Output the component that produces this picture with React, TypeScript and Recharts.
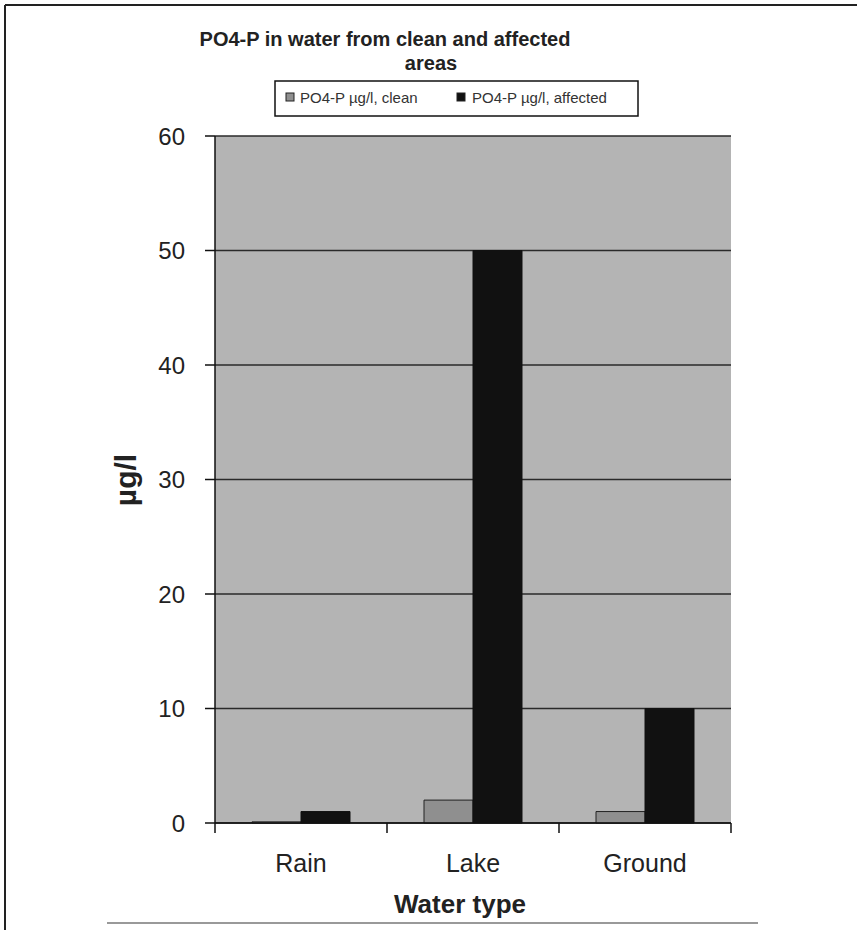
import React from 'react'
import { BarChart, Bar, XAxis, YAxis, CartesianGrid } from 'recharts'

const categories = ['Rain', 'Lake', 'Ground']
const cleanValues = [0.1, 2, 1]
const affectedValues = [1, 50, 10]
const yTicks = [0, 10, 20, 30, 40, 50, 60]
const seriesNames = ['PO4-P µg/l, clean', 'PO4-P µg/l, affected']

const data = categories.map((name, i) => ({
  name,
  clean: cleanValues[i],
  affected: affectedValues[i],
}))

const FONT = 'Arial, "Liberation Sans", sans-serif'
const BAND = 172
const CLEAN = '#8f8f8f'
const AFFECTED = '#111'

function XTick({ x, y, payload, index }: any) {
  return (
    <g>
      {index === 0 && <line x1={x - BAND / 2} x2={x - BAND / 2} y1={y - 8} y2={y + 2} stroke="#111" strokeWidth={1.5} />}
      <line x1={x + BAND / 2} x2={x + BAND / 2} y1={y - 8} y2={y + 2} stroke="#111" strokeWidth={1.5} />
      <text x={x} y={y + 41} textAnchor="middle" fontSize={25} fill="#222" fontFamily={FONT}>
        {payload.value}
      </text>
    </g>
  )
}

// legend drawn by hand: box with two swatches
function LegendBox() {
  const items = [
    { name: seriesNames[0], color: CLEAN, sx: 286, tx: 300 },
    { name: seriesNames[1], color: AFFECTED, sx: 457, tx: 472 },
  ]
  return (
    <g>
      <rect x={275} y={81} width={363} height={35} fill="#fff" stroke="#111" strokeWidth={1.5} />
      {items.map((it) => (
        <g key={it.name}>
          <rect x={it.sx} y={93} width={8} height={8} fill={it.color} stroke="#222" strokeWidth={1} />
          <text x={it.tx} y={103} fontSize={15} fill="#333" fontFamily={FONT}>
            {it.name}
          </text>
        </g>
      ))}
    </g>
  )
}

export default function App() {
  return (
    <div style={{ position: 'absolute', left: 0, top: 0, width: 857, height: 930, background: '#fff' }}>
      <svg width={857} height={930} style={{ position: 'absolute', left: 0, top: 0 }}>
        <line x1={5} x2={5} y1={5} y2={930} stroke="#222" strokeWidth={2} />
        <line x1={5} x2={857} y1={5} y2={5} stroke="#222" strokeWidth={2} />
        <line x1={107} x2={758} y1={923} y2={923} stroke="#777" strokeWidth={1.5} />
        <text x={385} y={46} textAnchor="middle" fontSize={20} fontWeight="bold" fill="#222" fontFamily={FONT}>
          PO4-P in water from clean and affected
        </text>
        <text x={431} y={70} textAnchor="middle" fontSize={20} fontWeight="bold" fill="#222" fontFamily={FONT}>
          areas
        </text>
        <LegendBox />
        <text
          x={0}
          y={0}
          transform="translate(136,480) rotate(-90)"
          textAnchor="middle"
          fontSize={30}
          fontWeight="bold"
          fill="#222"
          fontFamily={FONT}
        >
          µg/l
        </text>
        <text x={460} y={913} textAnchor="middle" fontSize={26} fontWeight="bold" fill="#222" fontFamily={FONT}>
          Water type
        </text>
      </svg>
      <div style={{ position: 'absolute', left: 0, top: 0 }}>
        <BarChart
          width={857}
          height={930}
          data={data}
          margin={{ top: 136, right: 126, bottom: 0, left: 0 }}
          barGap={0}
          barCategoryGap={37}
        >
          <CartesianGrid vertical={false} fill="#b4b4b4" stroke="#2a2a2a" strokeWidth={1.5} />
          <XAxis
            dataKey="name"
            height={107}
            axisLine={{ stroke: '#111', strokeWidth: 1.5 }}
            tickLine={false}
            tick={<XTick />}
            interval={0}
          />
          <YAxis
            width={215}
            domain={[0, 60]}
            ticks={yTicks}
            interval={0}
            axisLine={{ stroke: '#111', strokeWidth: 1.5 }}
            tickLine={{ stroke: '#111', strokeWidth: 1.5 }}
            tickSize={10}
            tickMargin={20}
            tick={{ fontSize: 24, fill: '#222', fontFamily: FONT }}
          />
          <Bar dataKey="clean" name={seriesNames[0]} fill={CLEAN} stroke="#222" strokeWidth={1} isAnimationActive={false} />
          <Bar dataKey="affected" name={seriesNames[1]} fill={AFFECTED} stroke={AFFECTED} strokeWidth={1} isAnimationActive={false} />
        </BarChart>
      </div>
    </div>
  )
}
